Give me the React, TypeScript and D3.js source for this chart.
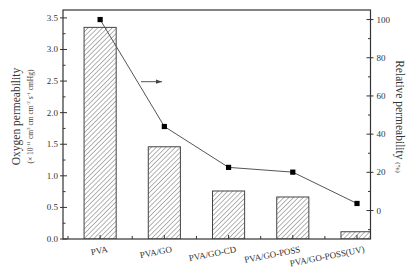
import React from "react";
import * as d3 from "d3";

const categories = ["PVA", "PVA/GO", "PVA/GO-CD", "PVA/GO-POSS", "PVA/GO-POSS(UV)"];
const permeability = [3.35, 1.46, 0.76, 0.665, 0.115];
const relative = [100, 44, 22.6, 20.1, 3.7];
const leftTicks = [0, 0.5, 1.0, 1.5, 2.0, 2.5, 3.0, 3.5];
const rightTicks = [0, 20, 40, 60, 80, 100];

const W = 416, H = 272;
const L = 63, R = 370.5, T = 10, B = 239;
const font = "'Liberation Serif', 'Times New Roman', serif";
const stroke = "#333";

export default function App() {
  const x = d3.scaleLinear().domain([-0.578, 4.21]).range([L, R]);
  const yL = d3.scaleLinear().domain([0, 3.625]).range([B, T]);
  const yR = d3.scaleLinear().domain([-14.9, 105]).range([B, T]);
  const barW = x(0.5) - x(0);
  const line = d3.line<number>().x((_, i) => x(i)).y((d) => yR(d));
  const leftMinor = d3.range(0.25, 3.6, 0.5);
  const rightMinor = d3.range(-10, 105, 20);
  const halfTicks = d3.range(-0.5, 4.6, 1).filter((v) => x(v) > L + 1 && x(v) < R - 1);

  return (
    <svg width={W} height={H} style={{ position: "absolute", left: 0, top: 0, background: "#fff" }} fontFamily={font}>
      <defs>
        <pattern id="hatch" patternUnits="userSpaceOnUse" width="3.4" height="3.4" patternTransform="rotate(45)">
          <line x1="0" y1="0" x2="0" y2="3.4" stroke="#666" strokeWidth="1" />
        </pattern>
        <clipPath id="plot">
          <rect x={L} y={T} width={R - L} height={B - T} />
        </clipPath>
        <marker id="arr" viewBox="0 0 10 10" refX="10" refY="5" markerWidth="6" markerHeight="6" orient="auto">
          <path d="M0,1.5 L10,5 L0,8.5 Z" fill="#444" />
        </marker>
      </defs>
      <rect width={W} height={H} fill="#fff" />
      <g clipPath="url(#plot)">
        {permeability.map((v, i) => (
          <rect key={i} x={x(i) - barW / 2} y={yL(v)} width={barW} height={B - yL(v)}
            fill="url(#hatch)" stroke="#444" strokeWidth={1} />
        ))}
      </g>
      <rect x={L} y={T} width={R - L} height={B - T} fill="none" stroke={stroke} strokeWidth={1.2} />
      {leftTicks.map((t) => (
        <g key={t}>
          <line x1={L - 3} x2={L + 4} y1={yL(t)} y2={yL(t)} stroke={stroke} />
          <text x={L - 5} y={yL(t)} dy="0.33em" textAnchor="end" fontSize={9} fill="#333">{t.toFixed(1)}</text>
        </g>
      ))}
      {leftMinor.map((t) => (
        <line key={t} x1={L} x2={L + 2.5} y1={yL(t)} y2={yL(t)} stroke={stroke} />
      ))}
      {rightTicks.map((t) => (
        <g key={t}>
          <line x1={R - 4} x2={R + 3} y1={yR(t)} y2={yR(t)} stroke={stroke} />
          <text x={R + 6} y={yR(t)} dy="0.33em" textAnchor="start" fontSize={9} fill="#333">{t}</text>
        </g>
      ))}
      {rightMinor.map((t) => (
        <line key={t} x1={R - 2.5} x2={R} y1={yR(t)} y2={yR(t)} stroke={stroke} />
      ))}
      {categories.map((c, i) => (
        <line key={c} x1={x(i)} x2={x(i)} y1={B} y2={B - 4} stroke={stroke} />
      ))}
      {halfTicks.map((t) => (
        <line key={t} x1={x(t)} x2={x(t)} y1={B} y2={B - 3} stroke={stroke} />
      ))}
      {categories.map((c, i) => (
        <text key={c} transform={`translate(${x(i) + 8},${252}) rotate(-11)`} textAnchor="end" fontSize={9} fill="#333">{c}</text>
      ))}
      <path d={line(relative) || ""} fill="none" stroke="#555" strokeWidth={1} />
      {relative.map((v, i) => (
        <rect key={i} x={x(i) - 2.6} y={yR(v) - 2.6} width={5.2} height={5.2} fill="#000" />
      ))}
      <line x1={141} y1={81.7} x2={162} y2={81.7} stroke="#555" strokeWidth={1} markerEnd="url(#arr)" />
      <text transform={`translate(20,${(T + B) / 2 - 8}) rotate(-90)`} textAnchor="middle" fontSize={11.5} fill="#333">Oxygen permeability</text>
      <text transform={`translate(33,${(T + B) / 2 - 8}) rotate(-90)`} textAnchor="middle" fontSize={7.5} fill="#444">
        <tspan>(× 10</tspan>
        <tspan dy="-3" fontSize={5}>-11</tspan>
        <tspan dy="3"> cm</tspan>
        <tspan dy="-3" fontSize={5}>3</tspan>
        <tspan dy="3"> cm cm</tspan>
        <tspan dy="-3" fontSize={5}>-2</tspan>
        <tspan dy="3"> s</tspan>
        <tspan dy="-3" fontSize={5}>-1</tspan>
        <tspan dy="3"> cmHg)</tspan>
      </text>
      <text transform={`translate(396,${(T + B) / 2 - 8}) rotate(90)`} textAnchor="middle" fontSize={11.5} fill="#333">
        Relative permeability <tspan fontSize={7}>(%)</tspan>
      </text>
    </svg>
  );
}
